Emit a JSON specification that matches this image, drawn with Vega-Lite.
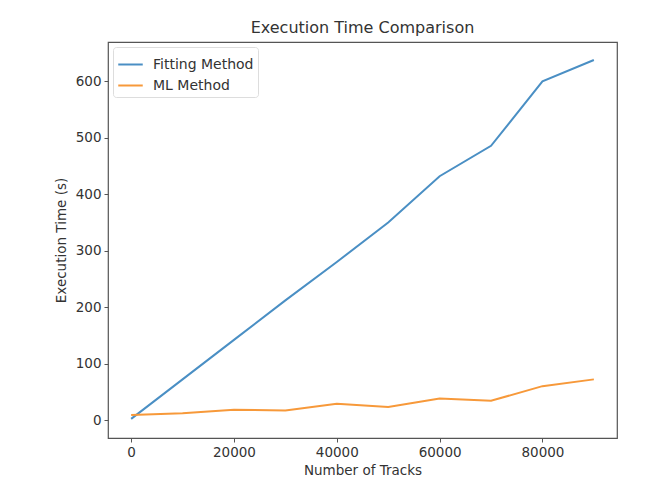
{
  "$schema": "https://vega.github.io/schema/vega-lite/v6.json",
  "width": 509,
  "height": 396,
  "autosize": "none",
  "padding": {"left": 108, "top": 42, "right": 39, "bottom": 47},
  "background": "white",
  "title": {"text": "Execution Time Comparison", "font": "DejaVu Sans", "fontSize": 16, "fontWeight": "normal", "color": "#333", "offset": 6, "anchor": "middle"},
  "data": {"values": [
    {"tracks": 0, "time": 2, "method": "Fitting Method"},
    {"tracks": 10000, "time": 72, "method": "Fitting Method"},
    {"tracks": 20000, "time": 142, "method": "Fitting Method"},
    {"tracks": 30000, "time": 212, "method": "Fitting Method"},
    {"tracks": 40000, "time": 280, "method": "Fitting Method"},
    {"tracks": 50000, "time": 350, "method": "Fitting Method"},
    {"tracks": 60000, "time": 432, "method": "Fitting Method"},
    {"tracks": 70000, "time": 486, "method": "Fitting Method"},
    {"tracks": 80000, "time": 600, "method": "Fitting Method"},
    {"tracks": 90000, "time": 638, "method": "Fitting Method"},
    {"tracks": 0, "time": 9, "method": "ML Method"},
    {"tracks": 10000, "time": 12, "method": "ML Method"},
    {"tracks": 20000, "time": 18, "method": "ML Method"},
    {"tracks": 30000, "time": 17, "method": "ML Method"},
    {"tracks": 40000, "time": 29, "method": "ML Method"},
    {"tracks": 50000, "time": 23, "method": "ML Method"},
    {"tracks": 60000, "time": 38, "method": "ML Method"},
    {"tracks": 70000, "time": 34, "method": "ML Method"},
    {"tracks": 80000, "time": 60, "method": "ML Method"},
    {"tracks": 90000, "time": 72, "method": "ML Method"}
  ]},
  "mark": {"type": "line", "strokeWidth": 2},
  "encoding": {
    "x": {"field": "tracks", "type": "quantitative",
      "scale": {"domain": [-4500, 94500], "nice": false, "zero": false},
      "axis": {"title": "Number of Tracks", "values": [0, 20000, 40000, 60000, 80000], "format": "d", "grid": false, "domain": false, "tickSize": 4, "tickColor": "#555", "labelFont": "DejaVu Sans", "labelFontSize": 13.5, "labelColor": "#333", "labelPadding": 3, "titleFont": "DejaVu Sans", "titleFontSize": 13.5, "titleFontWeight": "normal", "titleColor": "#333", "titlePadding": 5}},
    "y": {"field": "time", "type": "quantitative",
      "scale": {"domain": [-31.9, 669.9], "nice": false, "zero": false},
      "axis": {"title": "Execution Time (s)", "values": [0, 100, 200, 300, 400, 500, 600], "format": "d", "grid": false, "domain": false, "tickSize": 4, "tickColor": "#555", "labelFont": "DejaVu Sans", "labelFontSize": 13.5, "labelColor": "#333", "labelPadding": 3, "titleFont": "DejaVu Sans", "titleFontSize": 13.5, "titleFontWeight": "normal", "titleColor": "#333", "titlePadding": 7}},
    "color": {"field": "method", "type": "nominal",
      "scale": {"domain": ["Fitting Method", "ML Method"], "range": ["#4a8fc4", "#f7993a"]},
      "legend": {"title": null, "orient": "top-left", "offset": 5, "symbolType": "stroke", "symbolStrokeWidth": 2, "symbolSize": 600, "labelFont": "DejaVu Sans", "labelFontSize": 14, "labelColor": "#333", "labelOffset": 9, "rowPadding": -2, "padding": 4, "strokeColor": "#ddd", "cornerRadius": 3, "fillColor": "white"}}
  },
  "config": {"view": {"stroke": "#555", "strokeWidth": 1.2}}
}
